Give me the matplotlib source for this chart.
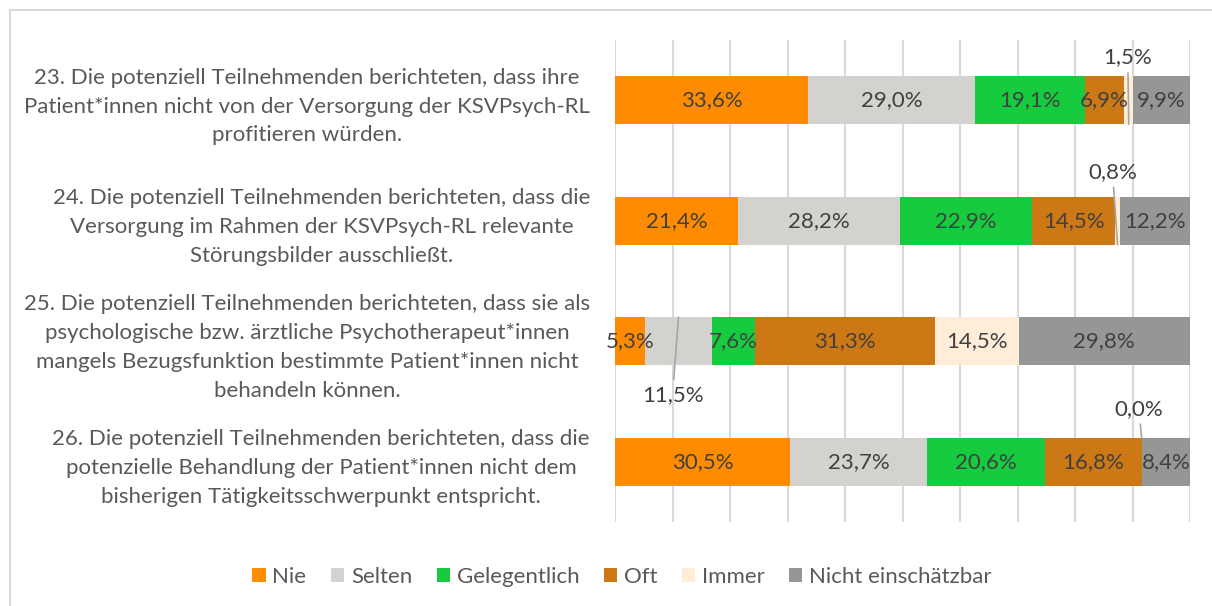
import numpy as np
import matplotlib
matplotlib.use("Agg")
import matplotlib.pyplot as plt
from matplotlib.lines import Line2D

plt.rcParams['font.family'] = ['Lato', 'DejaVu Sans']

questions = [
    "23. Die potenziell Teilnehmenden berichteten, dass ihre\nPatient*innen nicht von der Versorgung der KSVPsych-RL\nprofitieren würden.",
    "24. Die potenziell Teilnehmenden berichteten, dass die\nVersorgung im Rahmen der KSVPsych-RL relevante\nStörungsbilder ausschließt.",
    "25. Die potenziell Teilnehmenden berichteten, dass sie als\npsychologische bzw. ärztliche Psychotherapeut*innen\nmangels Bezugsfunktion bestimmte Patient*innen nicht\nbehandeln können.",
    "26. Die potenziell Teilnehmenden berichteten, dass die\npotenzielle Behandlung der Patient*innen nicht dem\nbisherigen Tätigkeitsschwerpunkt entspricht.",
]
answers = ["Nie", "Selten", "Gelegentlich", "Oft", "Immer", "Nicht einschätzbar"]
nie = [33.6, 21.4, 5.3, 30.5]
selten = [29.0, 28.2, 11.5, 23.7]
gelegentlich = [19.1, 22.9, 7.6, 20.6]
oft = [6.9, 14.5, 31.3, 16.8]
immer = [1.5, 0.8, 14.5, 0.0]
nicht = [9.9, 12.2, 29.8, 8.4]
series = [nie, selten, gelegentlich, oft, immer, nicht]
colors = ["#FF8C00", "#D3D2CE", "#17CB3F", "#CC7814", "#FFEDD8", "#969696"]

# labels moved outside the bar: (row, series) -> (dx px, dy px, anchor at bar 'top'/'bottom')
outside = {
    (0, 4): (-1, 67, 'bottom'),
    (1, 4): (-5, 73, 'bottom'),
    (2, 1): (-6, -78, 'top'),
    (3, 4): (-3, 29, 'top'),
}

text_col = "#404040"
fs = 16

fig = plt.figure(figsize=(12.12, 6.06), dpi=100)
ax = fig.add_axes([615 / 1212, 1 - 522 / 606, 575 / 1212, 482 / 606])

y = np.arange(len(questions))
bh = 0.4
left = np.zeros(len(questions))
for si, (vals, col, name) in enumerate(zip(series, colors, answers)):
    vals = np.array(vals)
    ax.barh(y, vals, left=left, height=bh, color=col, label=name, zorder=2)
    for ri, v in enumerate(vals):
        cx = left[ri] + v / 2
        lab = f"{v:.1f}%".replace(".", ",")
        if (ri, si) in outside:
            dx, dy, edge = outside[(ri, si)]
            yy = y[ri] + bh / 2 if edge == 'bottom' else y[ri] - bh / 2
            ax.annotate(lab, xy=(cx, yy), xytext=(dx * 0.72, dy * 0.72),
                        textcoords='offset points', ha='center', va='center',
                        fontsize=fs, color=text_col, zorder=4,
                        arrowprops=dict(arrowstyle='-', color='#A6A6A6', lw=1.2,
                                        shrinkA=2, shrinkB=0))
        else:
            ax.text(cx, y[ri], lab, ha='center', va='center', fontsize=fs,
                    color=text_col, zorder=3)
    left += vals

ax.set_xlim(0, 100)
ax.set_ylim(len(questions) - 0.5, -0.5)
ax.set_xticks(np.arange(0, 101, 10))
ax.tick_params(axis='x', length=0, labelbottom=False)
ax.grid(axis='x', color='#D9D9D9', lw=1.5, zorder=0)
ax.set_yticks(y)
ax.set_yticklabels(questions, fontsize=fs, color='#595959', linespacing=1.55)
for t in ax.get_yticklabels():
    t.set_multialignment('center')
ax.tick_params(axis='y', length=0, pad=18)
for s in ax.spines.values():
    s.set_visible(False)

leg = fig.legend(loc='center', bbox_to_anchor=(622 / 1212, 1 - 577 / 606), ncol=6,
                 frameon=False, fontsize=fs, handlelength=0.6, handleheight=0.6,
                 handletextpad=0.3, columnspacing=1.1)
for t in leg.get_texts():
    t.set_color('#595959')

fig.add_artist(Line2D([10 / 1212, 10 / 1212], [0, 1 - 10 / 606], color='#D9D9D9', lw=1.5))
fig.add_artist(Line2D([10 / 1212, 1], [1 - 10 / 606, 1 - 10 / 606], color='#D9D9D9', lw=1.5))

fig.savefig("out.png", dpi=100)
